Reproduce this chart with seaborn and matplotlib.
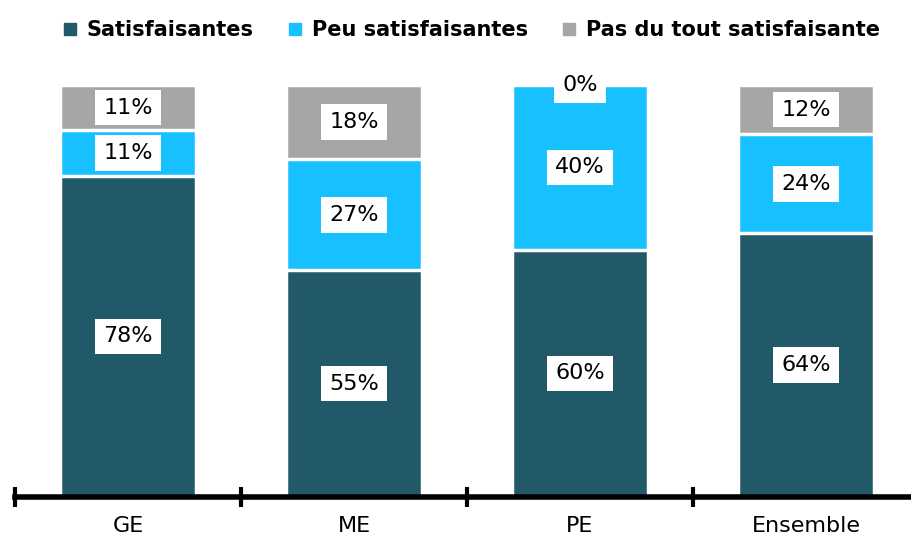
import matplotlib.pyplot as plt
import numpy as np
import pandas as pd
import seaborn as sns
from matplotlib.lines import Line2D

categories = ["GE", "ME", "PE", "Ensemble"]
satisfaisantes = [78, 55, 60, 64]
peu_satisfaisantes = [11, 27, 40, 24]
pas_du_tout = [11, 18, 0, 12]
series_names = ["Satisfaisantes", "Peu satisfaisantes", "Pas du tout satisfaisante"]
colors = ["#215968", "#17C0FF", "#A6A6A6"]

sns.set_style("white")
plt.rcParams["font.family"] = ["DejaVu Sans"]
plt.rcParams["text.color"] = "black"

df = pd.DataFrame({
    "cat": categories,
    "s1": satisfaisantes,
    "s2": peu_satisfaisantes,
    "s3": pas_du_tout,
})
df["c1"] = df["s1"]
df["c2"] = df["s1"] + df["s2"]
df["c3"] = df["c2"] + df["s3"]

fig = plt.figure(figsize=(9.12, 5.44), dpi=100)
ax = fig.add_axes((15 / 912, 47 / 544, 897 / 912, 412 / 544))

# stacked bars drawn as overlapping cumulative totals, top segment first
for col, c in [("c3", colors[2]), ("c2", colors[1]), ("c1", colors[0])]:
    sns.barplot(data=df, x="cat", y=col, color=c, width=0.6, saturation=1,
                edgecolor="white", linewidth=2.5, ax=ax)

# value labels in white boxes
for i in range(len(categories)):
    bottoms = [0, df["c1"][i], df["c2"][i]]
    vals = [df["s1"][i], df["s2"][i], df["s3"][i]]
    for b, v in zip(bottoms, vals):
        ax.text(i, b + v / 2, f"{v}%", ha="center", va="center", fontsize=16,
                color="black", clip_on=False, zorder=6,
                bbox=dict(boxstyle="square,pad=0.35", fc="white", ec="none"))

ax.set_xlim(-0.5, 3.5 - 7 / 226)
ax.set_ylim(0, 100)
ax.set_xlabel("")
ax.set_ylabel("")
ax.set_yticks([])
for s in ["top", "right", "left"]:
    ax.spines[s].set_visible(False)
ax.spines["bottom"].set_linewidth(4)
ax.spines["bottom"].set_color("black")
ax.spines["bottom"].set_zorder(5)

ax.set_xticks(range(len(categories)))
ax.set_xticklabels(categories, fontsize=16, color="black")
ax.tick_params(axis="x", which="major", bottom=True, length=0, pad=14)
ax.set_xticks(np.arange(-0.5, 3.5, 1), minor=True)
ax.tick_params(axis="x", which="minor", bottom=True, direction="inout",
               length=14, width=3, color="black")

handles = [Line2D([0], [0], marker="s", linestyle="none", markersize=8,
                  markerfacecolor=c, markeredgecolor=c) for c in colors]
leg = fig.legend(handles, series_names, loc="center", bbox_to_anchor=(0.515, 0.945),
                 ncol=3, frameon=False, handletextpad=0.3, columnspacing=1.5,
                 handlelength=1.0, prop={"weight": "bold", "size": 15})
for t in leg.get_texts():
    t.set_color("black")

fig.savefig("out.png", dpi=100)
